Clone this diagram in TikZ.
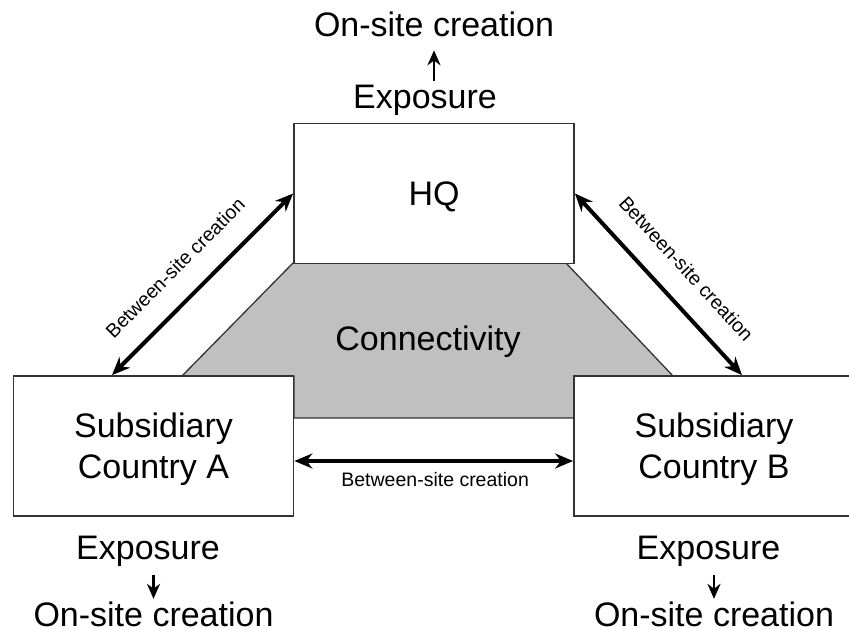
\documentclass[tikz,border=0pt]{standalone}
\usepackage{fontspec}
\setmainfont{Liberation Sans}
\usetikzlibrary{arrows.meta,calc}
\definecolor{conngray}{HTML}{C0C0C0}
\definecolor{edgegray}{HTML}{333333}
\newcommand{\bigtxt}{\fontsize{34}{41}\selectfont}
\newcommand{\smalltxt}{\fontsize{19.5}{23}\selectfont}
\begin{document}
\begin{tikzpicture}[x=1pt,y=-1pt,
  box/.style={draw=edgegray, line width=1.8pt, fill=white, minimum width=280pt,
    minimum height=140pt, align=center, text depth=0pt, inner sep=0pt, font=\bigtxt},
  bigtext/.style={font=\bigtxt, inner sep=0pt, outer sep=0pt, anchor=base},
  lblsmall/.style={font=\smalltxt, inner sep=0pt, outer sep=0pt},
  bi/.style={line width=4pt, {Stealth[length=18pt,width=15pt]}-{Stealth[length=18pt,width=15pt]}},
  sm/.style={line width=2.6pt, -{Stealth[length=15pt,width=13pt]}}
]
\path[use as bounding box] (0,0) rectangle (849,629);
\clip (0,0) rectangle (849,629);

% connectivity area
\filldraw[fill=conngray, draw=edgegray, line width=1.3pt]
  (293,263) -- (566,263) -- (673,376) -- (574,376) -- (574,418)
  -- (294,418) -- (294,376) -- (182,376) -- cycle;

% boxes
\node[box] (hq) at (434,193.5) {HQ};
\node[box] (a) at (153.5,446) {Subsidiary\\Country A};
\node[box] (b) at (714,446) {Subsidiary\\Country B};
\node[bigtext] (conn) at (428,350) {Connectivity};

% exposure / on-site texts
\node[bigtext] (ontop) at (434,36.5) {On-site creation};
\node[bigtext] (exptop) at (425,108) {Exposure};
\node[bigtext] (expA) at (148,559) {Exposure};
\node[bigtext] (onA) at (153.5,626) {On-site creation};
\node[bigtext] (expB) at (708.5,559) {Exposure};
\node[bigtext] (onB) at (714,626) {On-site creation};

\draw[sm, shorten <=3.5pt, shorten >=13.5pt] (exptop.north -| ontop.south) -- (ontop.south);
\draw[sm, shorten <=8.8pt, shorten >=2.5pt] (expA.south -| onA.north) -- (onA.north);
\draw[sm, shorten <=8.8pt, shorten >=2.5pt] (expB.south -| onB.north) -- (onB.north);

% between-site arrows
\draw[bi] ([xshift=-41.5pt]a.north) -- (hq.west)
  node[lblsmall, sloped, above, pos=0.47, inner ysep=24pt] (lblA) {Between-site creation};
\draw[bi] (hq.east) -- ([xshift=28pt]b.north)
  node[lblsmall, sloped, above, pos=0.53, inner ysep=24pt] (lblB) {Between-site creation};
\draw[bi] ([yshift=-15pt]a.east) -- ([yshift=-15pt]b.west)
  node[lblsmall, below, pos=0.505, inner ysep=11pt] (lblH) {Between-site creation};
\end{tikzpicture}
\end{document}
